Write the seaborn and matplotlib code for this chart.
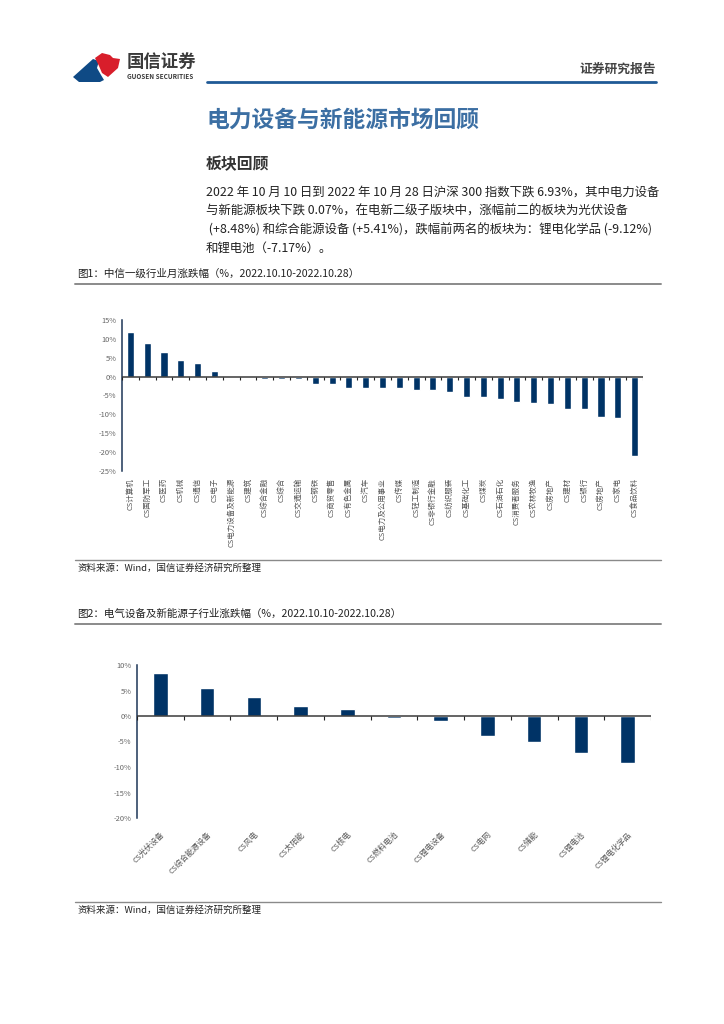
import matplotlib
matplotlib.use("Agg")
import matplotlib.pyplot as plt
import matplotlib.patches as mpatches
from matplotlib.lines import Line2D
import numpy as np
import pandas as pd
import seaborn as sns

# ---------------- data ----------------
ind_names = ["CS计算机", "CS国防军工", "CS医药", "CS机械", "CS通信", "CS电子",
             "CS电力设备及新能源", "CS建筑", "CS综合金融", "CS综合", "CS交通运输",
             "CS钢铁", "CS商贸零售", "CS有色金属", "CS汽车", "CS电力及公用事业",
             "CS传媒", "CS轻工制造", "CS非银行金融", "CS纺织服装", "CS基础化工",
             "CS煤炭", "CS石油石化", "CS消费者服务", "CS农林牧渔", "CS房地产",
             "CS建材", "CS银行", "CS房地产", "CS家电", "CS食品饮料"]
ind_values = [11.9, 8.85, 6.5, 4.4, 3.7, 1.6,
              -0.07, -0.2, -0.5, -0.5, -0.6,
              -1.95, -1.95, -2.9, -2.9, -3.1,
              -3.1, -3.6, -3.6, -4.0, -5.3,
              -5.3, -6.0, -6.8, -6.9, -7.2,
              -8.5, -8.5, -10.6, -10.9, -21.0]

sub_names = ["CS光伏设备", "CS综合能源设备", "CS风电", "CS太阳能", "CS核电",
             "CS燃料电池", "CS锂电设备", "CS电网", "CS储能", "CS锂电池", "CS锂电化学品"]
sub_values = [8.48, 5.41, 3.66, 1.96, 1.37, -0.3, -0.9, -3.86, -5.16, -7.17, -9.12]

y1_ticks = [15, 10, 5, 0, -5, -10, -15, -20, -25]
y2_ticks = [10, 5, 0, -5, -10, -15, -20]

# ---------------- style ----------------
sns.set_style("white")
FAM = ["Noto Sans CJK SC", "DejaVu Sans"]
plt.rcParams["font.family"] = FAM
plt.rcParams["axes.unicode_minus"] = False

W, H = 724, 1024
fig = plt.figure(figsize=(W / 100, H / 100), dpi=100)
fig.patch.set_facecolor("white")

BAR = "#003366"


def fx(x):
    return x / W


def fy(y):
    return 1 - y / H


def hline(y, x0, x1, color, lw):
    fig.add_artist(Line2D([fx(x0), fx(x1)], [fy(y), fy(y)], color=color, lw=lw,
                          transform=fig.transFigure))


def poly(pts, color):
    fig.add_artist(mpatches.Polygon([(fx(a), fy(b)) for a, b in pts], closed=True,
                                    facecolor=color, edgecolor="none",
                                    transform=fig.transFigure))


# ---------------- header ----------------
poly([(73, 77), (93, 59), (99, 61), (97, 68), (101, 75), (104, 80), (100, 82), (79, 82)], "#0f4a85")
poly([(95, 58), (102, 53), (110, 55), (113, 58), (120, 59), (118, 68), (108, 77), (102, 73), (99, 66)], "#d81e2b")
fig.text(fx(127), fy(62), "国信证券", fontsize=12.5, fontweight="bold", color="#3a3a3a",
         va="center", ha="left", family=FAM)
fig.text(fx(127), fy(76.5), "GUOSEN SECURITIES", fontsize=4.6, fontweight="bold", color="#3a3a3a",
         va="center", ha="left", family=FAM)
fig.text(fx(656), fy(69), "证券研究报告", fontsize=9.2, fontweight="bold", color="#444444",
         va="center", ha="right", family=FAM)
hline(82, 207, 656, "#1f5a96", 2.0)

fig.text(fx(206), fy(120), "电力设备与新能源市场回顾", fontsize=16.4, fontweight="bold",
         color="#3c6fa3", va="center", ha="left", family=FAM)
fig.text(fx(206), fy(164), "板块回顾", fontsize=11.4, fontweight="bold",
         color="#333333", va="center", ha="left", family=FAM)

para = ["2022 年 10 月 10 日到 2022 年 10 月 28 日沪深 300 指数下跌 6.93%，其中电力设备",
        "与新能源板块下跌 0.07%，在电新二级子版块中，涨幅前二的板块为光伏设备",
        " (+8.48%) 和综合能源设备 (+5.41%)，跌幅前两名的板块为：锂电化学品 (-9.12%)",
        "和锂电池（-7.17%）。"]
for i, line in enumerate(para):
    fig.text(fx(206), fy(192 + i * 18.7), line, fontsize=8.95, color="#222222",
             va="center", ha="left", family=FAM)

# captions / separators
fig.text(fx(77), fy(274), "图1：中信一级行业月涨跌幅（%，2022.10.10-2022.10.28）", fontsize=7.6,
         color="#222222", va="center", ha="left", family=FAM)
hline(284, 75, 661, "#8a8a8a", 1.4)
hline(560, 75, 661, "#8a8a8a", 1.0)
fig.text(fx(77), fy(568), "资料来源：Wind，国信证券经济研究所整理", fontsize=6.8,
         color="#222222", va="center", ha="left", family=FAM)

fig.text(fx(77), fy(614), "图2：电气设备及新能源子行业涨跌幅（%，2022.10.10-2022.10.28）", fontsize=7.6,
         color="#222222", va="center", ha="left", family=FAM)
hline(624, 75, 661, "#8a8a8a", 1.4)
hline(902, 75, 661, "#8a8a8a", 1.0)
fig.text(fx(77), fy(910), "资料来源：Wind，国信证券经济研究所整理", fontsize=6.8,
         color="#222222", va="center", ha="left", family=FAM)


def style_axis(ax, yticks, ylim, n, tick_h):
    ax.set_ylim(*ylim)
    ax.set_xlim(-0.5, n - 0.5)
    ax.set_yticks(yticks)
    ax.set_yticklabels([f"{t}%" for t in yticks])
    for s in ["top", "right", "bottom"]:
        ax.spines[s].set_visible(False)
    ax.spines["left"].set_color("#1d3557")
    ax.spines["left"].set_linewidth(1.1)
    ax.tick_params(axis="y", direction="out", length=3, width=0.6, color="#555555",
                   labelsize=5.4, labelcolor="#666666", pad=1)
    ax.axhline(0, color="#3a3a3a", lw=1.1, zorder=3)
    ax.vlines(np.arange(n + 1) - 0.5, -tick_h, 0, color="#222222", lw=0.8, zorder=3)
    ax.set_xlabel("")
    ax.set_ylabel("")
    ax.set_facecolor("white")


# ---------------- chart 1 ----------------
df1 = pd.DataFrame({"name": range(len(ind_names)), "val": ind_values})
ax1 = fig.add_axes([fx(122), fy(471), fx(643) - fx(122), fy(320) - fy(471)])
sns.barplot(data=df1, x="name", y="val", color=BAR, saturation=1, width=0.42, ax=ax1)
style_axis(ax1, y1_ticks, (-25, 15), len(ind_names), 0.8)
ax1.set_xticks(range(len(ind_names)))
ax1.set_xticklabels(ind_names, rotation=90, fontsize=5.4, color="#555555")
ax1.tick_params(axis="x", length=0, pad=5)
for lab in ax1.get_xticklabels():
    lab.set_va("top")
    lab.set_ha("center")

# ---------------- chart 2 ----------------
df2 = pd.DataFrame({"name": range(len(sub_names)), "val": sub_values})
ax2 = fig.add_axes([fx(137), fy(818), fx(651) - fx(137), fy(665) - fy(818)])
sns.barplot(data=df2, x="name", y="val", color=BAR, saturation=1, width=0.31, ax=ax2)
style_axis(ax2, y2_ticks, (-20, 10), len(sub_names), 0.8)
ax2.set_xticks(range(len(sub_names)))
ax2.set_xticklabels(sub_names, rotation=45, fontsize=5.6, color="#555555",
                    ha="right", va="top", rotation_mode="anchor")
ax2.tick_params(axis="x", length=0, pad=9)

fig.savefig("out.png", dpi=100, facecolor="white")
